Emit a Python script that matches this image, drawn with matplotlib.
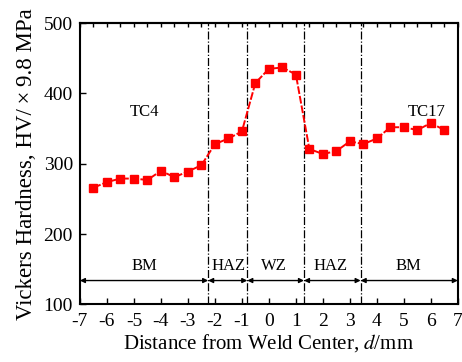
import numpy as np
import matplotlib.pyplot as plt
from matplotlib.ticker import MultipleLocator

plt.rcParams['font.family'] = ['Liberation Serif', 'DejaVu Serif']
plt.rcParams['mathtext.fontset'] = 'stix'
plt.rcParams['axes.unicode_minus'] = False

# hardness profile across the weld
distance = [-6.5, -6, -5.5, -5, -4.5, -4, -3.5, -3, -2.5, -2, -1.5, -1, -0.5, 0,
            0.5, 1, 1.5, 2, 2.5, 3, 3.5, 4, 4.5, 5, 5.5, 6, 6.5]
hardness = [266, 274, 279, 279, 277, 290, 281, 289, 298, 328, 336, 346, 415, 435,
            437, 427, 321, 314, 318, 332, 328, 336, 352, 352, 348, 358, 348]

# zone borders and zone names
borders = [-2.25, -0.8, 1.3, 3.4]
zone_edges = [-7, -2.25, -0.8, 1.3, 3.4, 7]
zone_names = ['BM', 'HAZ', 'WZ', 'HAZ', 'BM']
zone_text_x = [-4.6, -1.5, 0.2, 2.3, 5.15]

fig = plt.figure(figsize=(4.62, 3.62), dpi=100)
ax = fig.add_axes([0.173, 0.159, 0.818, 0.777])

ax.plot(distance, hardness, color='red', lw=1.4, ls=(0, (4, 1)),
        marker='s', ms=5.5, mfc='red', mec='red', zorder=3)

for b in borders:
    ax.axvline(b, color='k', lw=0.9, ls='-.')

# zones: arrows and names
for i in range(len(zone_names)):
    ax.annotate('', xy=(zone_edges[i + 1], 134), xytext=(zone_edges[i], 134),
                arrowprops=dict(arrowstyle='<|-|>', color='k', lw=1,
                                mutation_scale=7, shrinkA=0, shrinkB=0))
    ax.text(zone_text_x[i], 154, zone_names[i], ha='center', va='center', fontsize=12)

ax.text(-4.6, 373, 'TC4', ha='center', va='center', fontsize=12)
ax.text(5.85, 373, 'TC17', ha='center', va='center', fontsize=12)

ax.set_xlim(-7, 7)
ax.set_ylim(100, 500)
ax.xaxis.set_major_locator(MultipleLocator(1))
ax.yaxis.set_major_locator(MultipleLocator(100))
ax.tick_params(direction='in', labelsize=14, length=4, width=1, top=False, right=False)
ax.tick_params(axis='x', pad=6)
ax.tick_params(axis='y', pad=5)

# minor ticks only along top edge
top = ax.secondary_xaxis('top')
top.xaxis.set_major_locator(MultipleLocator(0.5))
top.tick_params(direction='in', length=3, width=1, labeltop=False)

for s in ax.spines.values():
    s.set_linewidth(1.5)
top.spines['top'].set_linewidth(1.5)

ax.set_xlabel('Distance from Weld Center, $d$/mm', fontsize=15, labelpad=2)
ax.set_ylabel('Vickers Hardness, HV/\u2009×\u20099.8 MPa', fontsize=16.5, labelpad=5)

fig.savefig('out.png', dpi=100)
